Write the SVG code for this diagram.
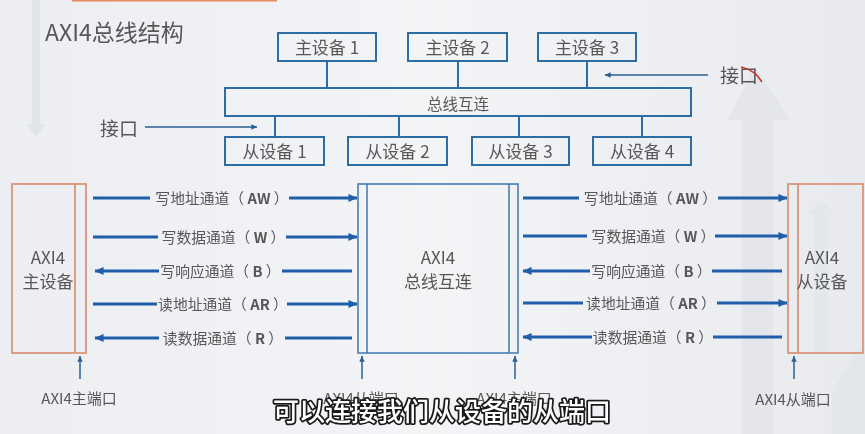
<svg xmlns="http://www.w3.org/2000/svg" width="865" height="434" viewBox="0 0 865 434">
<defs>
<linearGradient id="bg" x1="0" y1="0" x2="1" y2="0">
<stop offset="0" stop-color="#eceef2"/>
<stop offset="0.5" stop-color="#f3f4f6"/>
<stop offset="1" stop-color="#e8eaee"/>
</linearGradient>
<marker id="ah" viewBox="0 0 10 10" refX="9.5" refY="5" markerWidth="10" markerHeight="9" markerUnits="userSpaceOnUse" orient="auto-start-reverse">
<path d="M0,0.5 L10,5 L0,9.5 z" fill="#1f5ea8"/>
</marker>
<marker id="sh" viewBox="0 0 10 10" refX="9.5" refY="5" markerWidth="7" markerHeight="6" markerUnits="userSpaceOnUse" orient="auto">
<path d="M0,0.5 L10,5 L0,9.5 z" fill="#2a5f95"/>
</marker>
<style>
.t{font-family:"Noto Sans CJK SC","Noto Sans",sans-serif;fill:#575757;}
.box{fill:none;stroke:#2e6da4;stroke-width:2;}
.cbox{fill:none;stroke:#3b78b0;stroke-width:1.5;}
.obox{fill:none;stroke:#d9957a;stroke-width:1.8;}
.link{stroke:#2e6da4;stroke-width:2;fill:none;}
.ch{stroke:#1f5ea8;stroke-width:3;fill:none;}
.thin{stroke:#2a5f95;stroke-width:1.5;fill:none;}
.lbl{font-size:17px;text-anchor:middle;}
.chl{font-size:14.8px;text-anchor:middle;}
.big{font-size:17px;text-anchor:middle;}
.port{font-size:15px;text-anchor:middle;}
.deco{fill:#dfe2e8;}
</style>
</defs>
<rect width="865" height="434" fill="url(#bg)"/>
<g id="background" opacity="0.9">
<rect class="deco" x="32" y="0" width="8" height="125"/>
<polygon class="deco" points="27,124 45,124 36,137"/>
<rect class="deco" x="742" y="120" width="31" height="314" opacity="0.7"/>
<polygon class="deco" points="728,120 755,66 790,120" opacity="0.7"/>
<rect class="deco" x="814" y="214" width="14" height="140" opacity="0.6"/>
<polygon class="deco" points="806,214 821,200 836,214" opacity="0.6"/>
<polygon class="deco" points="832,434 832,390 865,340 865,434" opacity="0.6"/>
<rect x="72" y="0" width="205" height="1.5" fill="#e8804f"/>
</g>
<text class="t" x="45" y="41" font-size="23">AXI4总线结构</text>

<g id="connectors">
<line class="link" x1="327" y1="61" x2="327" y2="88"/>
<line class="link" x1="458" y1="61" x2="458" y2="88"/>
<line class="link" x1="587" y1="61" x2="587" y2="88"/>
<line class="link" x1="275" y1="116" x2="275" y2="137"/>
<line class="link" x1="399" y1="116" x2="399" y2="137"/>
<line class="link" x1="519" y1="116" x2="519" y2="137"/>
<line class="link" x1="642" y1="116" x2="642" y2="137"/>
<line class="thin" x1="708" y1="75" x2="605" y2="75" marker-end="url(#sh)"/>
<line class="thin" x1="145" y1="127" x2="257" y2="127" marker-end="url(#sh)"/>
<line class="thin" x1="80" y1="379" x2="80" y2="356" marker-end="url(#sh)"/>
<line class="thin" x1="362" y1="379" x2="362" y2="356" marker-end="url(#sh)"/>
<line class="thin" x1="515" y1="379" x2="515" y2="356" marker-end="url(#sh)"/>
<line class="thin" x1="794" y1="379" x2="794" y2="356" marker-end="url(#sh)"/>
<line class="ch" x1="93" y1="198" x2="150" y2="198"/>
<line class="ch" x1="289" y1="198" x2="357" y2="198" marker-end="url(#ah)"/>
<line class="ch" x1="93" y1="237" x2="158" y2="237"/>
<line class="ch" x1="286" y1="237" x2="357" y2="237" marker-end="url(#ah)"/>
<line class="ch" x1="95" y1="271" x2="159" y2="271" marker-start="url(#ah)"/>
<line class="ch" x1="282" y1="271" x2="352" y2="271"/>
<line class="ch" x1="93" y1="304" x2="157" y2="304"/>
<line class="ch" x1="287" y1="304" x2="357" y2="304" marker-end="url(#ah)"/>
<line class="ch" x1="95" y1="338" x2="159" y2="338" marker-start="url(#ah)"/>
<line class="ch" x1="285" y1="338" x2="352" y2="338"/>
<line class="ch" x1="523" y1="198" x2="579" y2="198"/>
<line class="ch" x1="718" y1="198" x2="787" y2="198" marker-end="url(#ah)"/>
<line class="ch" x1="523" y1="236" x2="587" y2="236"/>
<line class="ch" x1="715" y1="236" x2="787" y2="236" marker-end="url(#ah)"/>
<line class="ch" x1="523" y1="271" x2="590" y2="271" marker-start="url(#ah)"/>
<line class="ch" x1="712" y1="271" x2="782" y2="271"/>
<line class="ch" x1="523" y1="303" x2="583" y2="303"/>
<line class="ch" x1="717" y1="303" x2="787" y2="303" marker-end="url(#ah)"/>
<line class="ch" x1="523" y1="337" x2="592" y2="337" marker-start="url(#ah)"/>
<line class="ch" x1="713" y1="337" x2="782" y2="337"/>
</g>

<g id="channel-labels">
<text class="t chl" x="222" y="203.5">写地址通道（ <tspan font-weight="bold">AW</tspan> ）</text>
<text class="t chl" x="223.5" y="242.5">写数据通道（ <tspan font-weight="bold">W</tspan> ）</text>
<text class="t chl" x="220.5" y="276.5">写响应通道（ <tspan font-weight="bold">B</tspan> ）</text>
<text class="t chl" x="223" y="309.5">读地址通道（ <tspan font-weight="bold">AR</tspan> ）</text>
<text class="t chl" x="223" y="343.5">读数据通道（ <tspan font-weight="bold">R</tspan> ）</text>
<text class="t chl" x="650.5" y="203.5">写地址通道（ <tspan font-weight="bold">AW</tspan> ）</text>
<text class="t chl" x="653.5" y="241.5">写数据通道（ <tspan font-weight="bold">W</tspan> ）</text>
<text class="t chl" x="651.5" y="276.5">写响应通道（ <tspan font-weight="bold">B</tspan> ）</text>
<text class="t chl" x="651" y="308.5">读地址通道（ <tspan font-weight="bold">AR</tspan> ）</text>
<text class="t chl" x="653" y="342.5">读数据通道（ <tspan font-weight="bold">R</tspan> ）</text>
</g>

<g id="master1"><rect class="box" x="278" y="33" width="98" height="28"/><text class="t lbl" x="327" y="54">主设备 1</text></g>
<g id="master2"><rect class="box" x="408" y="33" width="99" height="28"/><text class="t lbl" x="457.5" y="54">主设备 2</text></g>
<g id="master3"><rect class="box" x="538" y="33" width="98" height="28"/><text class="t lbl" x="587" y="54">主设备 3</text></g>
<g id="bus"><rect class="box" x="225" y="88" width="466" height="28"/><text class="t" x="458" y="109.5" font-size="15.5" text-anchor="middle">总线互连</text></g>
<g id="slave1"><rect class="box" x="225" y="137" width="99" height="28"/><text class="t lbl" x="274.5" y="157.5">从设备 1</text></g>
<g id="slave2"><rect class="box" x="348" y="137" width="99" height="28"/><text class="t lbl" x="397.5" y="157.5">从设备 2</text></g>
<g id="slave3"><rect class="box" x="472" y="137" width="97" height="28"/><text class="t lbl" x="520.5" y="157.5">从设备 3</text></g>
<g id="slave4"><rect class="box" x="593" y="137" width="98" height="28"/><text class="t lbl" x="642" y="157.5">从设备 4</text></g>

<g id="iface-right"><text class="t" x="720" y="83" font-size="19">接口</text><path d="M741,67 Q755,70 762,82" stroke="#c0392b" stroke-width="1.5" fill="none"/></g>
<g id="iface-left"><text class="t" x="100" y="136" font-size="19">接口</text></g>

<g id="axi-master">
<rect class="obox" x="12" y="184" width="74" height="169"/>
<line class="obox" x1="75" y1="184" x2="75" y2="353"/>
<text class="t big" x="48" y="264">AXI4</text>
<text class="t big" x="48" y="287.5">主设备</text>
</g>
<g id="axi-interconnect">
<rect class="cbox" x="358" y="184" width="160" height="169"/>
<line class="cbox" x1="367" y1="184" x2="367" y2="353"/>
<line class="cbox" x1="509" y1="184" x2="509" y2="353"/>
<text class="t big" x="438" y="264">AXI4</text>
<text class="t big" x="438" y="287.5">总线互连</text>
</g>
<g id="axi-slave">
<rect class="obox" x="788" y="184" width="75" height="169"/>
<line class="obox" x1="798" y1="184" x2="798" y2="353"/>
<text class="t big" x="822" y="264">AXI4</text>
<text class="t big" x="822" y="287.5">从设备</text>
</g>

<g id="port-labels">
<text class="t port" x="79" y="404">AXI4主端口</text>
<text class="t port" x="361" y="404">AXI4从端口</text>
<text class="t port" x="514" y="404">AXI4主端口</text>
<text class="t port" x="793" y="405">AXI4从端口</text>
</g>

<text x="442" y="421" font-family="'Noto Sans CJK SC',sans-serif" font-size="26" font-weight="500" text-anchor="middle" fill="#ffffff" stroke="#1a1a1a" stroke-width="3.5" paint-order="stroke" stroke-linejoin="round">可以连接我们从设备的从端口</text>
</svg>
